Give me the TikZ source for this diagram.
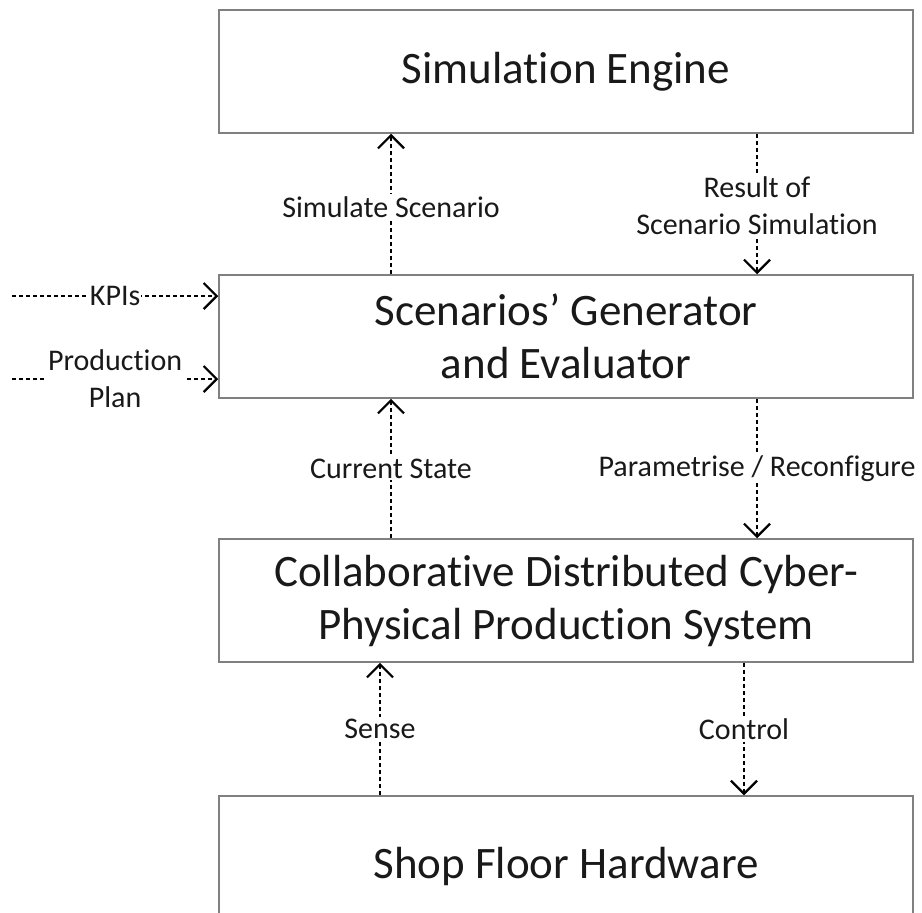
\documentclass[tikz,border=0pt]{standalone}
\usepackage{fontspec}
\setmainfont{Carlito}[Ligatures=NoCommon]
\usetikzlibrary{arrows.meta}
\begin{document}
\begin{tikzpicture}[x=1pt,y=-1pt,
  box/.style={draw=black!50, line width=1.5pt, minimum width=694pt, minimum height=123pt, inner sep=0pt, font=\fontsize{45}{53}\selectfont, align=center, text=black!90},
  lbl/.style={fill=white, inner sep=2pt, font=\fontsize{30}{37}\selectfont, align=center, text=black!90},
  arr/.style={line width=2.4pt, dash pattern=on 4pt off 3pt, -{Straight Barb[length=13pt,width=26pt,line width=2.2pt]}}]
\useasboundingbox (0,0) rectangle (922,913);
\clip (0,0) rectangle (922,913);
\fill[white] (0,0) rectangle (922,913);
\node[box] (sim) at (566,71.5) {Simulation Engine};
\node[box] (gen) at (566,336.5) {Scenarios’ Generator\\and Evaluator};
\node[box] (cps) at (566,600.5) {Collaborative Distributed Cyber-\\Physical Production System};
\node[box, minimum height=140pt] (shop) at (566,866) {Shop Floor Hardware};
\coordinate (xa) at (391,0);
\coordinate (xb) at (757,0);
\coordinate (xc) at (380,0);
\coordinate (xd) at (744,0);
\coordinate (kpi0) at (12,296);
\coordinate (pp0) at (12,379);
\draw[arr] (gen.north -| xa) -- node[lbl, pos=0.48] (l1) {Simulate Scenario} (sim.south -| xa);
\draw[arr] (sim.south -| xb) -- node[lbl, pos=0.51] (l2) {Result of\\Scenario Simulation} (gen.north -| xb);
\draw[arr] (cps.north -| xa) -- node[lbl, pos=0.5] (l3) {Current State} (gen.south -| xa);
\draw[arr] (gen.south -| xb) -- node[lbl, pos=0.5] (l4) {Parametrise / Reconfigure} (cps.north -| xb);
\draw[arr] (shop.north -| xc) -- node[lbl, pos=0.5] (l5) {Sense} (cps.south -| xc);
\draw[arr] (cps.south -| xd) -- node[lbl, pos=0.5] (l6) {Control} (shop.north -| xd);
\draw[arr] (kpi0) -- node[lbl, inner sep=1pt, pos=0.5] (l7) {KPIs} (gen.west |- kpi0);
\draw[arr] (pp0) -- node[lbl, pos=0.5] (l8) {Production\\Plan} (gen.west |- pp0);
\end{tikzpicture}
\end{document}
